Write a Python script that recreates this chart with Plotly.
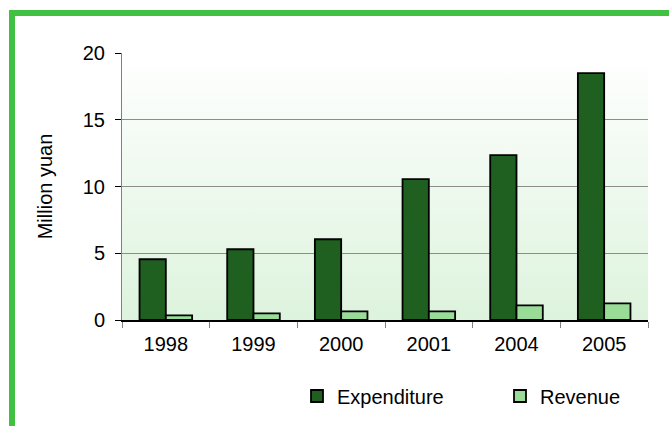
import base64
import plotly.graph_objects as go

years = ["1998", "1999", "2000", "2001", "2004", "2005"]
expenditure = [4.55, 5.3, 6.05, 10.55, 12.35, 18.5]
revenue = [0.35, 0.5, 0.65, 0.65, 1.1, 1.25]

W, H = 669, 426
L, R, T, B = 122, 21, 53, 106

# vertical gradient behind the bars (white -> pale green)
svg = ('<svg xmlns="http://www.w3.org/2000/svg" width="10" height="100" preserveAspectRatio="none">'
       '<defs><linearGradient id="g" x1="0" y1="0" x2="0" y2="1">'
       '<stop offset="0" stop-color="#ffffff"/><stop offset="1" stop-color="#ddf3dd"/>'
       '</linearGradient></defs><rect width="10" height="100" fill="url(#g)"/></svg>')
bg_src = "data:image/svg+xml;base64," + base64.b64encode(svg.encode()).decode()

font = dict(family="Liberation Sans, Arial, sans-serif", size=20, color="#000000")

fig = go.Figure()
fig.add_trace(go.Bar(x=years, y=expenditure, name="Expenditure",
                     marker=dict(color="#1f5f1f", line=dict(color="#000000", width=1.8))))
fig.add_trace(go.Bar(x=years, y=revenue, name="Revenue",
                     marker=dict(color="#98dc98", line=dict(color="#000000", width=1.8))))

# paper coords for the green frame drawn outside the plot area
def px(x): return (x - L) / (W - L - R)
def py(y): return (H - B - y) / (H - T - B)

frame = "#41c041"
fig.add_shape(type="rect", xref="paper", yref="paper", x0=px(9), x1=px(W + 5),
              y0=py(16), y1=py(10), fillcolor=frame, line_width=0, layer="above")
fig.add_shape(type="rect", xref="paper", yref="paper", x0=px(9), x1=px(15),
              y0=py(H + 10), y1=py(10), fillcolor=frame, line_width=0, layer="above")

fig.add_layout_image(source=bg_src, xref="paper", yref="paper", x=0, y=1, sizex=1, sizey=1,
                     sizing="stretch", xanchor="left", yanchor="top", layer="below")

fig.update_layout(
    width=W, height=H, margin=dict(l=L, r=R, t=T, b=B, autoexpand=False),
    paper_bgcolor="#ffffff", plot_bgcolor="rgba(0,0,0,0)",
    font=font, barmode="group", bargap=0.4, bargroupgap=0,
    showlegend=True,
    legend=dict(orientation="h", x=px(297), xanchor="left", y=py(396), yanchor="middle",
                font=dict(size=20), entrywidth=158, bgcolor="rgba(0,0,0,0)"),
    xaxis=dict(type="category", showline=True, linecolor="#000000", linewidth=1.5,
               ticks="outside", tickson="boundaries", ticklen=6, tickcolor="#808080",
               ticklabelstandoff=5, showgrid=False, tickfont=font),
    yaxis=dict(range=[0, 20], tickvals=[0, 5, 10, 15, 20], showline=True, linecolor="#808080",
               linewidth=1, ticks="outside", ticklen=6, tickcolor="#000000",
               ticklabelstandoff=6,
               showgrid=True, gridcolor="#8c8c8c", gridwidth=1, zeroline=False,
               title=dict(text="Million yuan", font=font, standoff=24), tickfont=font),
)

# drop the page's default body margin so the figure sits at the window corner
fig.write_html("out.html", config={"displayModeBar": False},
               post_script="document.body.style.margin='0px';")
